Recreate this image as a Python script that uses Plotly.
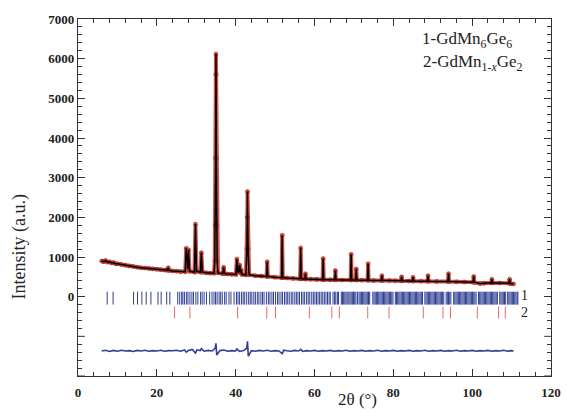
import plotly.graph_objects as go

obs_x = [6.0, 6.5, 7.0, 7.5, 8.0, 8.5, 9.0, 9.5, 10.0, 11.0, 12.0, 13.0, 14.0, 15.0, 16.0, 17.0, 18.0, 19.0, 20.0, 21.0, 22.0,
         22.7, 22.9, 23.1, 24.0, 25.0, 26.0, 27.2, 27.45, 27.7, 27.85, 28.05, 28.3, 29.55, 29.8, 30.05,
         31.05, 31.3, 31.55, 32.5, 33.5, 34.5, 34.7, 34.8, 34.9, 34.97, 35.0, 35.03, 35.1, 35.2, 35.3,
         35.5, 36.7, 36.95, 37.2, 38.0, 39.0, 40.05, 40.3, 40.55, 40.75, 41.0, 41.2, 41.4, 41.6, 42.6,
         42.85, 42.95, 43.0, 43.05, 43.15, 43.4, 45.0, 46.5, 47.85, 48.0, 48.15, 50.0, 51.65, 51.8, 51.95,
         53.0, 54.5, 56.35, 56.5, 56.65, 57.55, 57.7, 57.85, 59.0, 60.5, 62.05, 62.2, 62.35, 64.0, 65.15,
         65.3, 65.45, 67.0, 69.15, 69.3, 69.45, 70.45, 70.6, 70.75, 72.0, 73.45, 73.6, 73.75, 75.0, 76.95,
         77.1, 77.25, 79.0, 80.5, 81.95, 82.1, 82.25, 84.0, 84.85, 85.0, 85.15, 87.0, 88.65, 88.8, 88.95,
         91.0, 93.85, 94.0, 94.15, 96.0, 98.0, 100.25, 100.4, 100.55, 102.0, 103.0, 104.85, 105.0, 105.15,
         107.0, 109.35, 109.5, 109.65, 110.5]
obs_y = [900, 880, 910, 870, 880, 850, 860, 830, 830, 810, 790, 770, 760, 740, 730, 720, 710, 700, 690, 680, 670,
         665, 730, 660, 650, 640, 630, 630, 1220, 700, 700, 1180, 640, 620, 1830, 640,
         620, 1110, 620, 600, 590, 590, 900, 1800, 3500, 5600, 6120, 5600, 3500, 1800, 900,
         600, 580, 740, 580, 570, 560, 560, 950, 620, 620, 800, 600, 680, 560, 550,
         1200, 2000, 2650, 2000, 1200, 550, 530, 520, 510, 880, 510, 490, 480, 1550, 480,
         470, 460, 450, 1230, 450, 445, 580, 445, 440, 435, 430, 960, 430, 425, 425,
         660, 425, 420, 420, 1070, 420, 420, 700, 420, 415, 415, 830, 415, 410, 410,
         530, 410, 405, 400, 400, 500, 400, 395, 395, 490, 395, 390, 390, 530, 390,
         385, 380, 580, 380, 375, 370, 365, 510, 360, 330, 340, 350, 440, 350,
         345, 340, 440, 330, 320]

# Difference curve
diff_x = [6, 7, 8, 9, 10, 11, 12, 13, 14, 15, 16, 17, 18, 19, 20, 21, 22, 23, 24, 25, 26, 27, 27.5, 28,
          29, 29.8, 30.2, 31, 31.3, 32, 33, 34, 34.8, 35.0, 35.2, 36, 37, 38, 39, 40, 40.3, 41, 42, 42.8,
          43.0, 43.2, 44, 45, 46, 47, 48, 49, 50, 51, 51.8, 52.2, 53, 54, 55, 56, 56.5, 57, 58, 59, 60,
          61, 62, 63, 64, 65, 66, 67, 68, 69, 70, 71, 72, 73, 74, 75, 76, 77, 78, 79, 80, 81, 82, 83,
          84, 85, 86, 87, 88, 89, 90, 91, 92, 93, 94, 95, 96, 97, 98, 99, 100, 101, 102, 103, 104, 105,
          106, 107, 108, 109, 110, 110.5]
diff_y = [-1370, -1350, -1380, -1355, -1375, -1350, -1370, -1360, -1380, -1355, -1370, -1350, -1375,
          -1360, -1370, -1350, -1375, -1360, -1365, -1350, -1375, -1345, -1400, -1355, -1330, -1420,
          -1340, -1360, -1310, -1375, -1355, -1370, -1300, -1175, -1470, -1360, -1345, -1375, -1360,
          -1370, -1320, -1380, -1360, -1300, -1125, -1500, -1360, -1375, -1355, -1370, -1350, -1375,
          -1360, -1370, -1440, -1350, -1365, -1375, -1355, -1370, -1330, -1380, -1360, -1370, -1355,
          -1375, -1360, -1370, -1355, -1375, -1360, -1370, -1350, -1375, -1360, -1370, -1355, -1375,
          -1360, -1370, -1350, -1375, -1360, -1370, -1355, -1375, -1360, -1370, -1355, -1375, -1360,
          -1370, -1350, -1375, -1360, -1370, -1355, -1375, -1360, -1370, -1350, -1375, -1360, -1370,
          -1355, -1375, -1360, -1370, -1355, -1375, -1360, -1370, -1350, -1375, -1360, -1370]

# Bragg reflection positions
phase1 = [7.4, 8.9, 14.1, 15.1, 16.2, 17.3, 18.5, 20.3, 21.1, 22.5, 23.3,
          25.3, 25.8, 26.3, 26.6, 27.0, 27.5, 27.9, 28.4, 28.9, 29.3, 29.9, 30.4, 31.1, 31.5, 32.0, 32.6,
          33.4, 34.0, 34.5, 34.9, 35.3, 35.8, 36.2, 36.6, 37.2, 37.6, 38.3, 38.8, 39.6, 40.2, 40.6, 41.0,
          41.5, 41.9, 42.3, 42.8, 43.3, 43.7, 44.1, 44.6, 45.0, 45.5, 45.9, 46.4, 46.8, 47.2, 47.8, 48.3,
          48.7, 49.2, 49.6, 50.1, 50.6, 51.0, 51.5, 51.9, 52.4, 52.8, 53.2, 53.6, 54.1, 54.5, 55.0, 55.4,
          55.8, 56.2, 56.7, 57.1, 57.5, 58.0, 58.4, 58.8, 59.3, 59.7, 60.1, 60.5, 60.9, 61.3, 61.7, 62.1,
          62.5, 62.9, 63.3, 63.7, 64.0, 64.7, 65.1, 65.4, 65.8, 66.1, 66.8, 67.1, 67.4, 67.7, 68.0, 68.3,
          68.7, 69.0, 69.3, 69.6, 69.9, 70.2, 70.5, 70.9, 71.3, 71.6, 71.9, 72.2, 72.5, 72.8, 73.1, 73.4,
          73.7, 74.0, 74.8, 75.1, 75.4, 75.7, 76.0, 76.3, 76.6, 76.9, 77.2, 77.5, 77.8, 78.1, 78.4, 78.7,
          79.0, 79.3, 79.6, 79.9, 80.5, 80.8, 81.1, 81.4, 81.7, 82.0, 82.3, 82.6, 82.9, 83.2, 83.5, 83.8,
          84.1, 84.4, 84.7, 85.0, 85.3, 85.6, 85.9, 86.2, 86.5, 86.8, 87.1, 87.4, 88.0, 88.3, 88.6, 88.9,
          89.2, 89.5, 89.8, 90.1, 90.4, 90.7, 91.0, 91.3, 91.6, 91.9, 92.2, 92.5, 92.8, 93.4, 93.7, 94.0,
          94.3, 94.6, 95.3, 95.6, 95.9, 96.2, 96.5, 96.8, 97.1, 97.4, 97.7, 98.0, 98.3, 98.6, 98.9, 99.2,
          99.5, 99.8, 100.1, 100.4, 100.7, 101.0, 101.6, 101.9, 102.2, 102.5, 102.8, 103.1, 103.4, 103.7,
          104.0, 104.3, 104.6, 104.9, 105.2, 105.5, 105.8, 106.1, 106.4, 107.0, 107.3, 107.6, 107.9,
          108.2, 108.5, 109.0, 109.3, 109.6, 109.9, 110.2, 110.5, 110.8, 111.1, 111.4, 111.6]
phase2 = [24.5, 28.4, 40.5, 47.9, 50.1, 58.7, 64.4, 66.3, 73.5, 78.9, 87.6, 92.6, 94.5, 101.3, 106.7, 108.4]

ytick_vals = [0, 1000, 2000, 3000, 4000, 5000, 6000, 7000]
ytick_text = ["0", "1000", "2000", "3000", "4000", "5000", "6000", "7000"]
yunlabeled = [-2000, -1000]

BLUE = "#2f3f92"
SERIF = "Liberation Serif, Times New Roman, serif"


def tick_segments(pos, y0, y1):
    xs, ys = [], []
    for p in pos:
        xs += [p, p, None]
        ys += [y0, y1, None]
    return xs, ys


fig = go.Figure()

# observed (red band of points)
fig.add_trace(go.Scatter(x=obs_x, y=obs_y, mode="lines+markers",
                         line=dict(color="rgba(205,55,45,0.85)", width=4),
                         marker=dict(size=4, color="rgb(215,70,55)", line=dict(color="rgb(140,30,30)", width=0.5)),
                         showlegend=False, hoverinfo="skip"))
# calculated
fig.add_trace(go.Scatter(x=obs_x, y=obs_y, mode="lines",
                         line=dict(color="black", width=1.5), showlegend=False))

# Bragg ticks
bx, by = tick_segments(phase1, 125, -200)
fig.add_trace(go.Scatter(x=bx, y=by, mode="lines", line=dict(color=BLUE, width=1),
                         showlegend=False, hoverinfo="skip"))
rx, ry = tick_segments(phase2, -250, -550)
fig.add_trace(go.Scatter(x=rx, y=ry, mode="lines", line=dict(color="rgb(225,110,110)", width=1),
                         showlegend=False, hoverinfo="skip"))

# difference
fig.add_trace(go.Scatter(x=diff_x, y=diff_y, mode="lines", line=dict(color=BLUE, width=1.6),
                         showlegend=False))

# unlabeled major ticks below zero on the y axes
ux, uy = [], []
for v in yunlabeled:
    ux += [0, 1.75, None, 120, 118.25, None]
    uy += [v, v, None, v, v, None]
fig.add_trace(go.Scatter(x=ux, y=uy, mode="lines", line=dict(color="#333", width=1),
                         showlegend=False, hoverinfo="skip"))

axis_common = dict(showline=True, linecolor="#333", linewidth=1.2, mirror="ticks",
                   ticks="inside", ticklen=7, tickcolor="#333", showgrid=False, zeroline=False,
                   tickfont=dict(family=SERIF, size=13, color="#222", weight="bold"))

fig.update_xaxes(range=[0, 120], dtick=20, tick0=0,
                 minor=dict(dtick=4, ticks="inside", ticklen=4, tickcolor="#333"),
                 ticklabelstandoff=4, **axis_common)
fig.update_yaxes(range=[-2000, 7000], tickvals=ytick_vals, ticktext=ytick_text,
                 minor=dict(tickvals=[v for v in range(-2000, 7001, 200) if v % 1000 != 0],
                            ticks="inside", ticklen=4, tickcolor="#333"),
                 ticklabelstandoff=0, **axis_common)

ann = [
    dict(text="2θ (°)", x=0.591, y=-0.066, xref="paper", yref="paper", showarrow=False,
         font=dict(family=SERIF, size=17, color="#222"), xanchor="center", yanchor="middle"),
    dict(text="Intensity (a.u.)", x=-0.124, y=0.361, xref="paper", yref="paper", showarrow=False,
         textangle=-90, font=dict(family=SERIF, size=18, color="#222"), xanchor="center", yanchor="middle"),
    dict(text="1-GdMn<sub>6</sub>Ge<sub>6</sub>", x=0.722, y=0.942, xref="paper", yref="paper",
         showarrow=False, font=dict(family=SERIF, size=17, color="#222"), xanchor="left", yanchor="middle"),
    dict(text="2-GdMn<sub>1-<i>x</i></sub>Ge<sub>2</sub>", x=0.726, y=0.877, xref="paper", yref="paper",
         showarrow=False, font=dict(family=SERIF, size=17, color="#222"), xanchor="left", yanchor="middle"),
    dict(text="1", x=113.4, y=20, xref="x", yref="y", showarrow=False,
         font=dict(family=SERIF, size=14, color="#222"), xanchor="center", yanchor="middle"),
    dict(text="2", x=113.4, y=-400, xref="x", yref="y", showarrow=False,
         font=dict(family=SERIF, size=14, color="#222"), xanchor="center", yanchor="middle"),
]

fig.update_layout(width=573, height=412, margin=dict(l=78, r=13, t=18, b=34),
                  paper_bgcolor="white", plot_bgcolor="white", annotations=ann, showlegend=False)

fig.write_html("out.html", config={"displayModeBar": False},
               post_script="document.body.style.margin='0';document.body.style.overflow='hidden';")
